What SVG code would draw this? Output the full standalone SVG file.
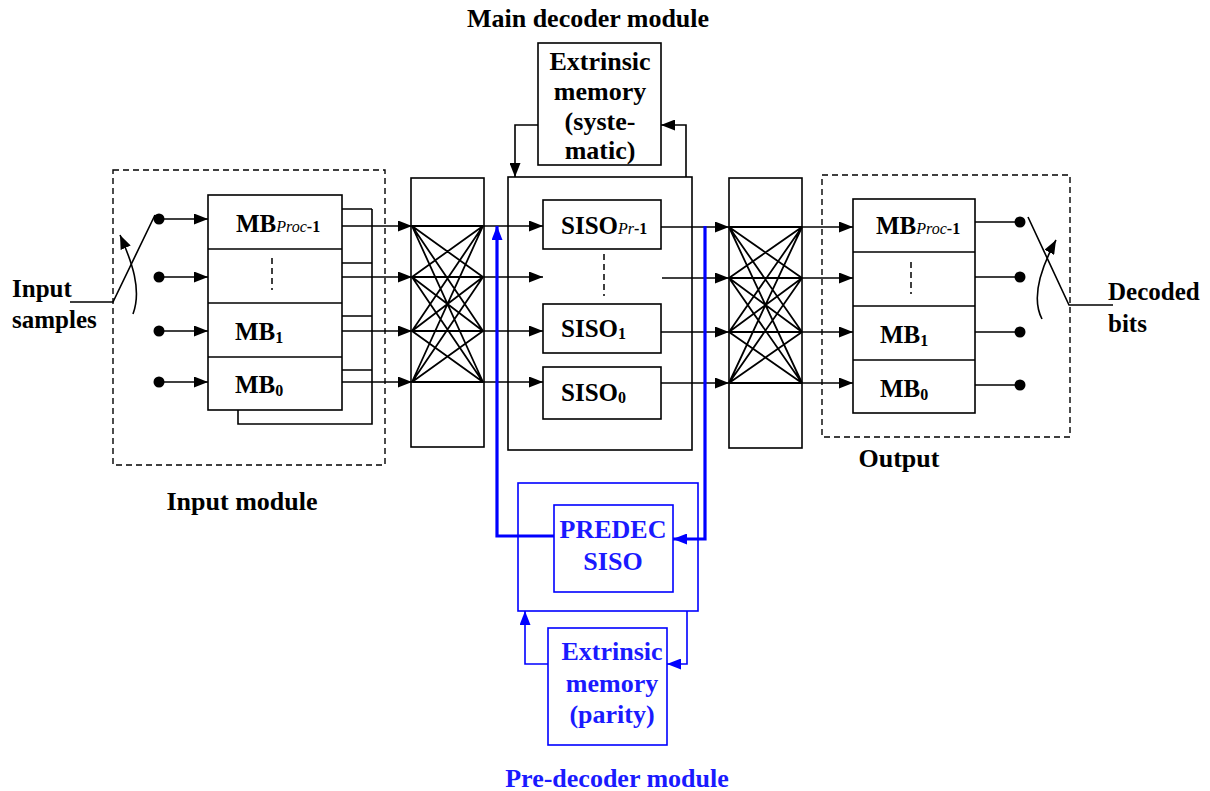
<svg xmlns="http://www.w3.org/2000/svg" width="1210" height="791" viewBox="0 0 1210 791">
<style>
text{font-family:"Liberation Serif","Times New Roman",serif;font-weight:bold;fill:#000}
.t26{font-size:26px}
.t25{font-size:25px}
.t24{font-size:25px}
.sub{font-size:16px}
.it{font-style:italic;font-weight:normal}
.blue{fill:#1a1aff}
.box{fill:#fff;stroke:#000;stroke-width:1.6}
.dash{fill:none;stroke:#000;stroke-width:1.4;stroke-dasharray:6 4}
.ln{fill:none;stroke:#000;stroke-width:1.6}
.xb{fill:none;stroke:#000;stroke-width:1.8}
.bl{fill:none;stroke:#00f;stroke-width:1.6}
.blt{fill:none;stroke:#00f;stroke-width:3.2}
.dot{fill:#000}
</style>
<defs>
<marker id="a" markerUnits="userSpaceOnUse" markerWidth="14" markerHeight="11" refX="14" refY="5.5" orient="auto"><path d="M0,0 L14,5.5 L0,11 z" fill="#000"/></marker>
<marker id="ab" markerUnits="userSpaceOnUse" markerWidth="14" markerHeight="11" refX="14" refY="5.5" orient="auto"><path d="M0,0 L14,5.5 L0,11 z" fill="#00f"/></marker>
</defs>

<!-- Titles -->
<text class="t26" x="588" y="27" text-anchor="middle">Main decoder module</text>
<text class="t26" x="242" y="510" text-anchor="middle">Input module</text>
<text class="t26" x="899" y="467" text-anchor="middle">Output</text>
<text class="t26 blue" x="617" y="787" text-anchor="middle">Pre-decoder module</text>
<text class="t25" x="12" y="297">Input</text>
<text class="t25" x="12" y="328">samples</text>
<text class="t25" x="1108" y="300">Decoded</text>
<text class="t25" x="1108" y="332">bits</text>

<!-- Input module -->
<g id="input-module">
<rect class="dash" x="113" y="170" width="272" height="295"/>
<rect class="box" x="208" y="195" width="134" height="215"/>
<line class="ln" x1="208" y1="249" x2="342" y2="249"/>
<line class="ln" x1="208" y1="303" x2="342" y2="303"/>
<line class="ln" x1="208" y1="357" x2="342" y2="357"/>
<text class="t24" x="236" y="232">MB<tspan class="sub it">Proc</tspan><tspan class="sub">-1</tspan></text>
<line x1="272" y1="258" x2="272" y2="290" stroke="#000" stroke-width="1.5" stroke-dasharray="6 4"/>
<text class="t24" x="235" y="340">MB<tspan class="sub" dy="3">1</tspan></text>
<text class="t24" x="235" y="393">MB<tspan class="sub" dy="3">0</tspan></text>
<path class="ln" d="M342,209 H372 M342,263 H372 M342,316 H372 M342,370 H372 M372,209 V424 H238 V410"/>
<circle class="dot" cx="159" cy="219" r="5.5"/>
<circle class="dot" cx="159" cy="277" r="5.5"/>
<circle class="dot" cx="159" cy="331" r="5.5"/>
<circle class="dot" cx="159" cy="382" r="5.5"/>
<path class="ln" d="M70,302 H113 L155,215"/>
<path class="ln" d="M133,314 C142,290 132,262 120,235" marker-end="url(#a)"/>
</g>

<!-- Crossbar 1 -->
<g id="crossbar-1">
<rect class="box" x="411" y="178" width="73" height="269"/>
<path class="xb" d="M412,226 L483,226 M412,226 L483,277 M412,226 L483,331 M412,226 L483,382
M412,277 L483,226 M412,277 L483,277 M412,277 L483,331 M412,277 L483,382
M412,331 L483,226 M412,331 L483,277 M412,331 L483,331 M412,331 L483,382
M412,382 L483,226 M412,382 L483,277 M412,382 L483,331 M412,382 L483,382"/>
</g>

<!-- Main decoder -->
<g id="main-decoder">
<rect class="box" x="508" y="177" width="184" height="273"/>
<rect class="box" x="543" y="200" width="118" height="49"/>
<text class="t24" x="561" y="234">SISO<tspan class="sub it">Pr</tspan><tspan class="sub">-1</tspan></text>
<line x1="604" y1="254" x2="604" y2="296" stroke="#000" stroke-width="1.5" stroke-dasharray="6 4"/>
<rect class="box" x="543" y="304" width="118" height="49"/>
<text class="t24" x="561" y="337">SISO<tspan class="sub" dy="2">1</tspan></text>
<rect class="box" x="543" y="367" width="118" height="52"/>
<text class="t24" x="561" y="401">SISO<tspan class="sub" dy="2">0</tspan></text>
</g>

<g id="extrinsic-memory-systematic">
<rect class="box" x="538" y="43" width="123" height="122"/>
<text class="t26" x="600" y="70" text-anchor="middle">Extrinsic</text>
<text class="t26" x="600" y="100" text-anchor="middle">memory</text>
<text class="t26" x="600" y="130" text-anchor="middle">(syste-</text>
<text class="t26" x="600" y="159" text-anchor="middle">matic)</text>
</g>

<!-- Crossbar 2 -->
<g id="crossbar-2">
<rect class="box" x="729" y="178" width="73" height="270"/>
<path class="xb" d="M729,227 L802,227 M729,227 L802,278 M729,227 L802,332 M729,227 L802,383
M729,278 L802,227 M729,278 L802,278 M729,278 L802,332 M729,278 L802,383
M729,332 L802,227 M729,332 L802,278 M729,332 L802,332 M729,332 L802,383
M729,383 L802,227 M729,383 L802,278 M729,383 L802,332 M729,383 L802,383"/>
</g>

<!-- Output module -->
<g id="output-module">
<rect class="dash" x="822" y="175" width="248" height="262"/>
<rect class="box" x="853" y="199" width="122" height="214"/>
<line class="ln" x1="853" y1="252" x2="975" y2="252"/>
<line class="ln" x1="853" y1="306" x2="975" y2="306"/>
<line class="ln" x1="853" y1="360" x2="975" y2="360"/>
<text class="t24" x="876" y="234">MB<tspan class="sub it">Proc</tspan><tspan class="sub">-1</tspan></text>
<line x1="911" y1="262" x2="911" y2="294" stroke="#000" stroke-width="1.5" stroke-dasharray="6 4"/>
<text class="t24" x="880" y="343">MB<tspan class="sub" dy="3">1</tspan></text>
<text class="t24" x="880" y="397">MB<tspan class="sub" dy="3">0</tspan></text>
<path class="ln" d="M975,222 H1020 M975,277 H1020 M975,332 H1020 M975,385 H1020"/>
<circle class="dot" cx="1020" cy="222" r="5.5"/>
<circle class="dot" cx="1020" cy="277" r="5.5"/>
<circle class="dot" cx="1020" cy="332" r="5.5"/>
<circle class="dot" cx="1020" cy="385" r="5.5"/>
<path class="ln" d="M1028,217 L1069,305 H1113"/>
<path class="ln" d="M1042,319 C1030,296 1043,264 1056,240" marker-end="url(#a)"/>
</g>

<!-- Pre-decoder -->
<g id="pre-decoder">
<rect fill="#fff" class="bl" x="518" y="483" width="180" height="128"/>
<rect fill="#fff" class="bl" x="554" y="505" width="119" height="87"/>
<text class="t26 blue" x="613" y="538" text-anchor="middle">PREDEC</text>
<text class="t26 blue" x="613" y="570" text-anchor="middle">SISO</text>
</g>
<g id="extrinsic-memory-parity">
<rect fill="#fff" class="bl" x="548" y="628" width="119" height="117"/>
<text class="t26 blue" x="612" y="660" text-anchor="middle">Extrinsic</text>
<text class="t26 blue" x="612" y="692" text-anchor="middle">memory</text>
<text class="t26 blue" x="612" y="723" text-anchor="middle">(parity)</text>
</g>

<!-- Connectors -->
<g id="connectors">
<path class="ln" d="M159,219 H208" marker-end="url(#a)"/>
<path class="ln" d="M159,277 H208" marker-end="url(#a)"/>
<path class="ln" d="M159,331 H208" marker-end="url(#a)"/>
<path class="ln" d="M159,382 H208" marker-end="url(#a)"/>
<path class="ln" d="M342,226 H412" marker-end="url(#a)"/>
<path class="ln" d="M342,277 H412" marker-end="url(#a)"/>
<path class="ln" d="M342,331 H412" marker-end="url(#a)"/>
<path class="ln" d="M342,382 H412" marker-end="url(#a)"/>
<path class="ln" d="M483,226 H543" marker-end="url(#a)"/>
<path class="ln" d="M483,277 H543" marker-end="url(#a)"/>
<path class="ln" d="M483,331 H543" marker-end="url(#a)"/>
<path class="ln" d="M483,382 H543" marker-end="url(#a)"/>
<path class="ln" d="M661,227 H729" marker-end="url(#a)"/>
<path class="ln" d="M662,278 H729" marker-end="url(#a)"/>
<path class="ln" d="M661,332 H729" marker-end="url(#a)"/>
<path class="ln" d="M661,383 H729" marker-end="url(#a)"/>
<path class="ln" d="M802,227 H853" marker-end="url(#a)"/>
<path class="ln" d="M802,278 H853" marker-end="url(#a)"/>
<path class="ln" d="M802,332 H853" marker-end="url(#a)"/>
<path class="ln" d="M802,383 H853" marker-end="url(#a)"/>
<path class="ln" d="M538,125 H515 V177" marker-end="url(#a)"/>
<path class="ln" d="M686,177 V125 H661" marker-end="url(#a)"/>
<path class="blt" d="M554,536 H497 V226" marker-end="url(#ab)"/>
<path class="blt" d="M705,226 V539 H673" marker-end="url(#ab)"/>
<path class="bl" d="M687,611 V664 H667" marker-end="url(#ab)"/>
<path class="bl" d="M548,664 H525 V611" marker-end="url(#ab)"/>
</g>
</svg>
